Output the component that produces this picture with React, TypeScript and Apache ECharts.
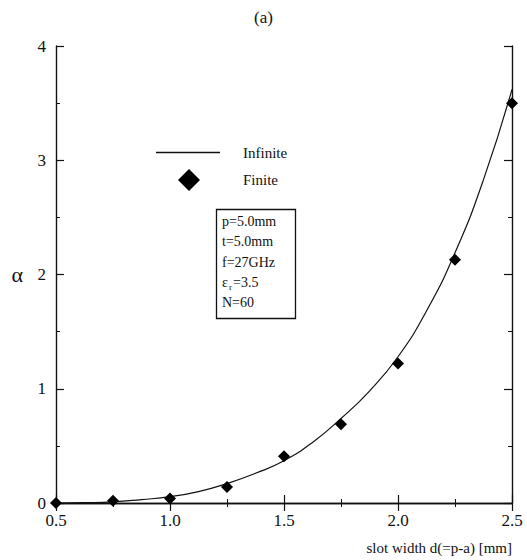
import React, { useEffect, useRef } from "react";
import * as echarts from "echarts";

const infiniteX = [0.5, 0.625, 0.75, 0.875, 1.0, 1.125, 1.25, 1.375, 1.5, 1.625, 1.75, 1.875, 2.0, 2.125, 2.25, 2.375, 2.5];
const infiniteY = [0, 0.003, 0.01, 0.03, 0.055, 0.1, 0.17, 0.26, 0.37, 0.53, 0.74, 0.98, 1.28, 1.68, 2.19, 2.83, 3.62];
const finiteX = [0.5, 0.75, 1.0, 1.25, 1.5, 1.75, 2.0, 2.25, 2.5];
const finiteY = [0, 0.02, 0.04, 0.14, 0.41, 0.69, 1.22, 2.13, 3.5];
const paramLines = ["p=5.0mm", "t=5.0mm", "f=27GHz", "", "N=60"];

const FONT = "Liberation Serif";

export default function App() {
  const ref = useRef<HTMLDivElement>(null);
  useEffect(() => {
    if (!ref.current) return;
    const chart = echarts.init(ref.current, null, { renderer: "svg" });
    const tickCommon = {
      axisLine: { show: true, lineStyle: { color: "#111", width: 1.4 } },
      axisTick: { show: true, inside: true, length: 8, lineStyle: { color: "#111", width: 1.2 } },
      minorTick: { show: true, splitNumber: 2, length: 4, lineStyle: { color: "#111", width: 1 } },
      splitLine: { show: false },
    };
    const textLines: any[] = [];
    const ys = [222, 242, 263, 283, 303];
    paramLines.forEach((t, i) => {
      if (t) {
        textLines.push({
          type: "text",
          left: 222,
          top: ys[i] - 8,
          style: { text: t, font: `14px ${FONT}`, fill: "#111" },
        });
      }
    });
    textLines.push({
      type: "text",
      left: 222,
      top: ys[3] - 8,
      style: { text: "ε", font: `14px ${FONT}`, fill: "#111" },
    });
    textLines.push({
      type: "text",
      left: 229,
      top: ys[3] - 1,
      style: { text: "r", font: `9px ${FONT}`, fill: "#111" },
    });
    textLines.push({
      type: "text",
      left: 233,
      top: ys[3] - 8,
      style: { text: "=3.5", font: `14px ${FONT}`, fill: "#111" },
    });

    chart.setOption({
      animation: false,
      backgroundColor: "#fff",
      textStyle: { fontFamily: FONT },
      title: {
        text: "(a)",
        left: "center",
        top: 4,
        textStyle: { fontFamily: FONT, fontSize: 17, fontWeight: "normal", color: "#111" },
      },
      grid: { left: 56, right: 15, top: 46, bottom: 57 },
      legend: [
        {
          left: 156,
          top: 145,
          itemWidth: 64,
          itemHeight: 1.3,
          padding: 0,
          data: [{ name: "Infinite", icon: "rect" }],
          itemStyle: { color: "#111", opacity: 1 },
          textStyle: { fontFamily: FONT, fontSize: 15, color: "#111", padding: [0, 0, 0, 18] },
        },
        {
          left: 178,
          top: 169,
          itemWidth: 22,
          itemHeight: 22,
          padding: 0,
          data: [{ name: "Finite", icon: "diamond" }],
          itemStyle: { color: "#000", opacity: 1 },
          textStyle: { fontFamily: FONT, fontSize: 15, color: "#111", padding: [0, 0, 0, 38] },
        },
      ],
      xAxis: [
        {
          type: "value",
          min: 0.5,
          max: 2.5,
          interval: 0.5,
          position: "bottom",
          ...tickCommon,
          axisLabel: {
            fontFamily: FONT,
            fontSize: 17,
            color: "#111",
            margin: 9,
            formatter: (v: number) => v.toFixed(1),
          },
          name: "slot width d(=p-a) [mm]",
          nameLocation: "end",
          nameGap: 0,
          nameTextStyle: {
            fontFamily: FONT,
            fontSize: 15,
            color: "#111",
            align: "right",
            verticalAlign: "top",
            padding: [37, 0, 0, 0],
          },
        },
        {
          type: "value",
          min: 0.5,
          max: 2.5,
          interval: 0.5,
          position: "top",
          ...tickCommon,
          axisLabel: { show: false },
        },
      ],
      yAxis: [
        {
          type: "value",
          min: 0,
          max: 4,
          interval: 1,
          position: "left",
          ...tickCommon,
          axisLabel: { fontFamily: FONT, fontSize: 17, color: "#111", margin: 10 },
          name: "α",
          nameLocation: "middle",
          nameRotate: 0,
          nameGap: 33,
          nameTextStyle: { fontFamily: FONT, fontSize: 22, color: "#111" },
        },
        {
          type: "value",
          min: 0,
          max: 4,
          interval: 1,
          position: "right",
          ...tickCommon,
          axisLabel: { show: false },
        },
      ],
      series: [
        {
          name: "Infinite",
          type: "line",
          data: infiniteX.map((x, i) => [x, infiniteY[i]]),
          smooth: true,
          symbol: "none",
          lineStyle: { color: "#111", width: 1.2 },
          itemStyle: { color: "#111" },
        },
        {
          name: "Finite",
          type: "scatter",
          data: finiteX.map((x, i) => [x, finiteY[i]]),
          symbol: "diamond",
          symbolSize: 12,
          itemStyle: { color: "#000", opacity: 1 },
          z: 3,
        },
      ],
      graphic: [
        {
          type: "rect",
          left: 214,
          top: 207,
          shape: { width: 79, height: 109 },
          style: { fill: "none", stroke: "#111", lineWidth: 1.3 },
        },
        ...textLines,
      ],
    });
    return () => chart.dispose();
  }, []);
  return (
    <div
      ref={ref}
      style={{ position: "fixed", left: 0, top: 0, width: 527, height: 560, background: "#fff" }}
    />
  );
}
